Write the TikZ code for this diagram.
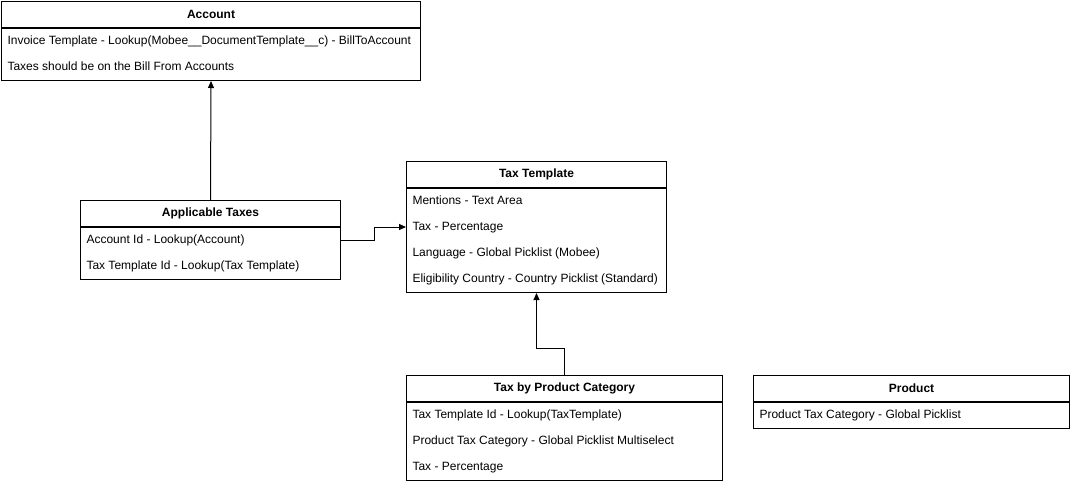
\documentclass[tikz,border=0pt]{standalone}
\usepackage{fontspec}
\setmainfont{Liberation Sans}
\usetikzlibrary{arrows.meta,positioning}
\tikzset{
  every picture/.style = {
    x = 1pt,
    y = -1pt,
    line width = 1pt,
    >={Triangle[length=7pt,width=6pt]},
    node distance = 0pt
  }
  ,
  head/.style = {
    rectangle,
    draw,
    anchor = north west,
    minimum height = 26pt,
    inner sep = 0pt,
    font = \fontsize{12}{14}\selectfont\bfseries
  }
  , % body of a class, below its head
  body/.style = {
    rectangle,
    draw,
    inner sep = 0pt
  }
  , % one line of a class
  field/.style = {
    anchor = west,
    inner sep = 0pt,
    text height = 9pt,
    text depth = 3pt,
    font = \fontsize{12}{14}\selectfont
  }
}
\begin{document}
\begin{tikzpicture}
\useasboundingbox (0,0) rectangle (1070,483);

\node [head, minimum width = 419pt] (acc) at (1,1) {Account};
\node [body, below = of acc, minimum width = 419pt, minimum height = 52pt] (accb) {};
\node [field] (acc1) at ([xshift=6pt,yshift=-13pt]accb.north west) {Invoice Template - Lookup(Mobee\_\_DocumentTemplate\_\_c) - BillToAccount};
\node [field] (acc2) at ([yshift=-26pt]acc1.west) {Taxes should be on the Bill From Accounts};

\node [head, minimum width = 260pt] (app) at (80,200) {Applicable Taxes};
\node [body, below = of app, minimum width = 260pt, minimum height = 52pt] (appb) {};
\node [field] (app1) at ([xshift=6pt,yshift=-13pt]appb.north west) {Account Id - Lookup(Account)};
\node [field] (app2) at ([yshift=-26pt]app1.west) {Tax Template Id - Lookup(Tax Template)};

\node [head, minimum width = 260pt] (tt) at (406,161) {Tax Template};
\node [body, below = of tt, minimum width = 260pt, minimum height = 104pt] (ttb) {};
\node [field] (tt1) at ([xshift=6pt,yshift=-13pt]ttb.north west) {Mentions - Text Area};
\node [field] (tt2) at ([yshift=-26pt]tt1.west) {Tax - Percentage};
\node [field] (tt3) at ([yshift=-26pt]tt2.west) {Language - Global Picklist (Mobee)};
\node [field] (tt4) at ([yshift=-26pt]tt3.west) {Eligibility Country - Country Picklist (Standard)};

\node [head, minimum width = 316pt] (tpc) at (406,375) {Tax by Product Category};
\node [body, below = of tpc, minimum width = 316pt, minimum height = 78pt] (tpcb) {};
\node [field] (tpc1) at ([xshift=6pt,yshift=-13pt]tpcb.north west) {Tax Template Id - Lookup(TaxTemplate)};
\node [field] (tpc2) at ([yshift=-26pt]tpc1.west) {Product Tax Category - Global Picklist Multiselect};
\node [field] (tpc3) at ([yshift=-26pt]tpc2.west) {Tax - Percentage};

\node [head, minimum width = 316pt] (prod) at (753,375) {Product};
\node [body, below = of prod, minimum width = 316pt, minimum height = 26pt] (prodb) {};
\node [field] (prod1) at ([xshift=6pt,yshift=-13pt]prodb.north west) {Product Tax Category - Global Picklist};

\draw [->] (app.north) -- (accb.south);
\draw [->] (appb.east |- app1) -- ++(33,0) |- (ttb.west |- tt2);
\draw [->] (tpc.north) -- ++(0,-27) -| (ttb.south);
\end{tikzpicture}
\end{document}
